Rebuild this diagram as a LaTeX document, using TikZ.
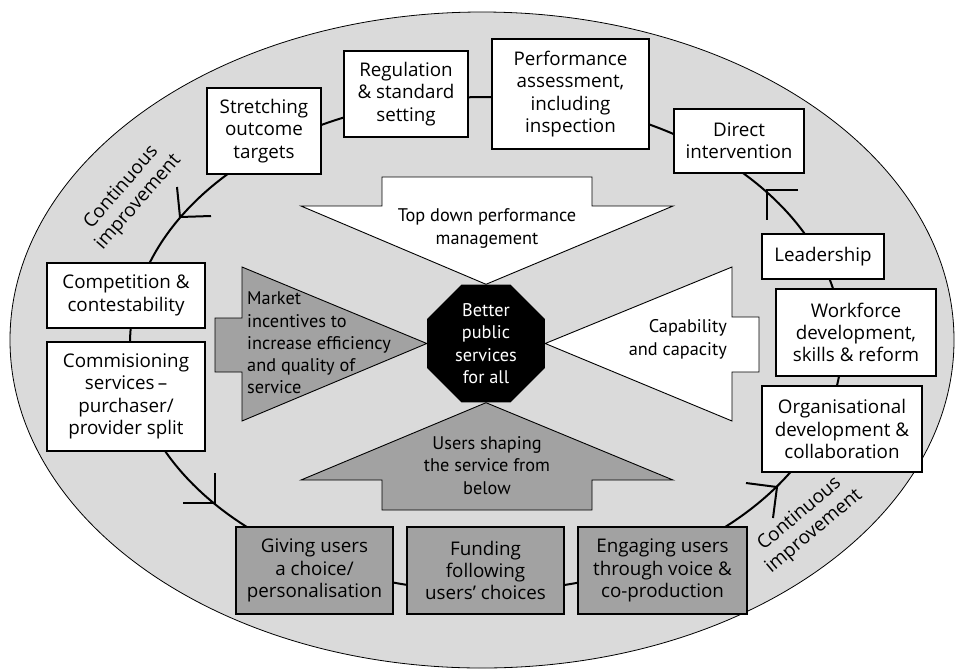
\documentclass[tikz,border=0pt]{standalone}
\usepackage{fontspec}
\setmainfont{Open Sans}
\newfontfamily\arrowfont{PT Sans}
\usetikzlibrary{shapes.geometric}
\definecolor{ringfill}{RGB}{218,218,218}
\definecolor{boxgray}{RGB}{162,162,162}
\begin{document}
\begin{tikzpicture}[x=1pt,y=-1pt,
  stagebox/.style={draw=black, line width=1.1pt, fill=white, inner sep=0pt,
    align=center, font=\fontsize{18.8}{22.3}\selectfont},
  userbox/.style={stagebox, fill=boxgray},
  bigarrow/.style={draw=black, line width=0.9pt, line join=miter},
  arrowtext/.style={font=\arrowfont\fontsize{18.3}{22.3}\selectfont, inner sep=0pt},
  looplabel/.style={font=\fontsize{19}{22.5}\selectfont, align=center, inner sep=0pt},
  cyclehead/.style={line width=2pt},
]
\useasboundingbox (0,0) rectangle (955,670);

% outer field
\fill[ringfill, draw=black, line width=0.8pt] (482,340) ellipse [x radius=472pt, y radius=328pt];

% improvement cycle
\draw[line width=2pt] (486,344) ellipse [x radius=356pt, y radius=247pt];
\draw[cyclehead] (177,187) -- (180,217) -- (211,216);
\draw[cyclehead] (798,190) -- (767,190) -- (767,220);
\draw[cyclehead] (215,473) -- (215,503) -- (183,503);
\draw[cyclehead] (746,483) -- (777,487) -- (773,518);

% stages on the cycle
\node[stagebox, minimum width=114pt, minimum height=86pt]  (stretch)  at (264,131)   {Stretching\\outcome\\targets};
\node[stagebox, minimum width=124pt, minimum height=86pt]  (regul)    at (406,94)    {Regulation\\\&~standard\\setting};
\node[stagebox, minimum width=157pt, minimum height=110pt] (perf)     at (570.5,94)  {Performance\\assessment,\\including\\inspection};
\node[stagebox, minimum width=130pt, minimum height=64pt]  (direct)   at (739,141)   {Direct\\intervention};
\node[stagebox, minimum width=122pt, minimum height=45pt]  (lead)     at (823,256.5) {Leadership};
\node[stagebox, minimum width=160pt, minimum height=87pt]  (work)     at (856,332.5) {Workforce\\development,\\skills \& reform};
\node[stagebox, minimum width=160pt, minimum height=86pt]  (orgdev)   at (842,429)   {Organisational\\development \&\\collaboration};
\node[userbox,  minimum width=169pt, minimum height=87pt]  (engage)   at (662.5,570.5) {Engaging users\\through voice \&\\co-production};
\node[userbox,  minimum width=157pt, minimum height=87pt]  (funding)  at (485.5,570.5) {Funding\\following\\users’ choices};
\node[userbox,  minimum width=157pt, minimum height=87pt]  (giving)   at (314.5,570.5) {Giving users\\a choice/\\personalisation};
\node[stagebox, minimum width=158pt, minimum height=109pt] (commis)   at (126,396.5) {Commisioning\\services\,–\\purchaser/\\provider split};
\node[stagebox, minimum width=158pt, minimum height=65pt]  (compet)   at (126,295.5) {Competition \&\\contestability};

% centre goal
\node[regular polygon, regular polygon sides=8, minimum size=127.7pt, inner sep=0pt,
      fill=black, text=white, align=center, font=\arrowfont\fontsize{18.3}{22.3}\selectfont]
      (core) at (486,343.5) {Better\\public\\services\\for all};

% four drivers pointing at the goal
\draw[bigarrow, fill=white] (382,177) -- (592,177) -- (592,206) -- (673,206) -- (core.north)
  -- (301,206) -- (382,206) -- cycle;
\draw[bigarrow, fill=white] (core.east) -- (732,267) -- (732,317) -- (759,317) -- (759,372)
  -- (732,372) -- (732,421) -- cycle;
\draw[bigarrow, fill=boxgray] (core.west) -- (242,267) -- (242,318) -- (215,318) -- (215,372)
  -- (242,372) -- (242,421) -- cycle;
\draw[bigarrow, fill=boxgray] (core.south) -- (673,480) -- (592,480) -- (592,510) -- (382,510)
  -- (382,480) -- (301,480) -- cycle;

\node[arrowtext, align=center] (topdown) at (487,228.5) {Top down performance\\management};
\node[arrowtext, align=left, anchor=west] (market) at (247,343) {Market\\incentives to\\increase efficiency\\and quality of\\service};
\node[arrowtext, align=right, anchor=east] (capab) at (727,339.5) {Capability\\and capacity};
\node[arrowtext, align=center] (users) at (487,465.5) {Users shaping\\the service from\\below};

% cycle labels
\node[looplabel, rotate=49] (loopA) at (130,195) {Continuous\\improvement};
\node[looplabel, rotate=40] (loopB) at (807,523) {Continuous\\improvement};
\end{tikzpicture}
\end{document}
